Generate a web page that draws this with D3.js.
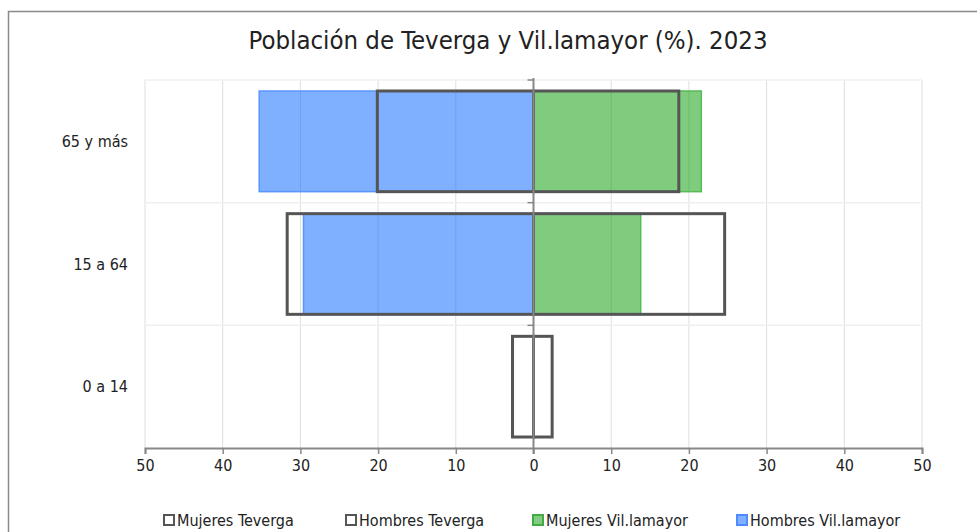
<!DOCTYPE html>
<html>
<head>
  <title>Población de Teverga y Vil.lamayor</title>
  <script src="https://d3js.org/d3.v7.min.js"></script>
  <style>
    body { margin: 0; background: #fff; }
    text { font-family: "Liberation Sans Narrow", "DejaVu Sans Condensed", sans-serif; fill: #222; }
    .title { font-size: 25.5px; }
    .lbl { font-size: 16px; }
    .grid line { stroke: #dedede; stroke-width: 1; }
    .hgrid line { stroke: #f0f0f0; stroke-width: 1.5; }
  </style>
</head>
<body>
  <svg width="977" height="532"></svg>

  <script>
    // datos (%)
    const categories = ['65 y más', '15 a 64', '0 a 14'];
    const hombresTeverga = [20.1, 31.7, 2.7];
    const mujeresTeverga = [18.7, 24.6, 2.4];
    const hombresVillamayor = [35.3, 29.6, 0];
    const mujeresVillamayor = [21.6, 13.8, 0];
    const xTicks = [-50, -40, -30, -20, -10, 0, 10, 20, 30, 40, 50];
    const legendItems = ['Mujeres Teverga', 'Hombres Teverga', 'Mujeres Vil.lamayor', 'Hombres Vil.lamayor'];

    const svg = d3.select('svg');

    // marco
    svg.append('rect')
      .attr('x', 8.5).attr('y', 11.5)
      .attr('width', 1000).attr('height', 600)
      .attr('fill', 'none')
      .attr('stroke', '#8a8a8a')
      .attr('stroke-width', 1.5);

    svg.append('text')
      .attr('class', 'title')
      .attr('x', 508).attr('y', 49)
      .attr('text-anchor', 'middle')
      .text('Población de Teverga y Vil.lamayor (%). 2023');

    const x = d3.scaleLinear().domain([-50, 50]).range([145, 922]);
    const y = d3.scaleBand().domain(categories).range([80, 448]);
    const pad = 11;

    // rejilla
    svg.append('g').attr('class', 'grid')
      .selectAll('line').data(xTicks).enter().append('line')
      .attr('x1', d => x(d)).attr('x2', d => x(d))
      .attr('y1', 80).attr('y2', 448);

    svg.append('g').attr('class', 'hgrid')
      .selectAll('line').data(categories).enter().append('line')
      .attr('x1', 145).attr('x2', 922)
      .attr('y1', d => y(d)).attr('y2', d => y(d));

    function bars(vals, sign, fill, stroke, opacity, sw) {
      svg.append('g')
        .selectAll('rect').data(vals).enter().append('rect')
        .attr('x', d => sign < 0 ? x(-d) : x(0))
        .attr('width', d => Math.abs(x(d) - x(0)))
        .attr('y', (d, i) => y(categories[i]) + pad)
        .attr('height', y.bandwidth() - 2 * pad)
        .attr('fill', fill)
        .attr('fill-opacity', opacity)
        .attr('stroke', d => d > 0 ? stroke : 'none')
        .attr('stroke-width', sw);
    }

    bars(hombresVillamayor, -1, '#0061ff', '#5a95ff', 0.5, 1.5);
    bars(mujeresVillamayor, 1, '#009900', '#55bb55', 0.5, 1.5);
    bars(hombresTeverga, -1, 'none', '#555', 1, 3);
    bars(mujeresTeverga, 1, 'none', '#555', 1, 3);

    // eje x
    const xAxis = svg.append('g')
      .attr('transform', 'translate(0,448)')
      .call(d3.axisBottom(x).tickValues(xTicks).tickSize(6).tickPadding(6).tickFormat(d => Math.abs(d)));
    xAxis.select('.domain').attr('stroke', '#888').attr('stroke-width', 2);
    xAxis.selectAll('.tick line').attr('stroke', '#888').attr('stroke-width', 1.5);
    xAxis.selectAll('.tick text').attr('class', 'lbl').attr('fill', '#222');

    // eje vertical en cero
    const yAxis = svg.append('g')
      .attr('transform', `translate(${x(0)},0)`);
    yAxis.append('line')
      .attr('y1', 78).attr('y2', 454)
      .attr('stroke', '#888').attr('stroke-width', 2);
    yAxis.selectAll('.tk').data(categories).enter().append('line')
      .attr('x1', -6).attr('x2', 0)
      .attr('y1', d => y(d)).attr('y2', d => y(d))
      .attr('stroke', '#888').attr('stroke-width', 1.5);

    // etiquetas de categorías
    svg.append('g').selectAll('text').data(categories).enter().append('text')
      .attr('class', 'lbl')
      .attr('x', 128)
      .attr('y', d => y(d) + y.bandwidth() / 2)
      .attr('dy', '0.35em')
      .attr('text-anchor', 'end')
      .text(d => d);

    // leyenda
    const legendX = [164, 346, 533, 737];
    const legendStyle = [
      { fill: '#fff', stroke: '#555' },
      { fill: '#fff', stroke: '#555' },
      { fill: '#80cc80', stroke: '#44aa44' },
      { fill: '#80b0ff', stroke: '#4d8cff' }
    ];
    const legend = svg.append('g').selectAll('g').data(legendItems).enter().append('g')
      .attr('transform', (d, i) => `translate(${legendX[i]},520)`);
    legend.append('rect')
      .attr('x', 0).attr('y', -5).attr('width', 10).attr('height', 10)
      .attr('fill', (d, i) => legendStyle[i].fill)
      .attr('stroke', (d, i) => legendStyle[i].stroke)
      .attr('stroke-width', 2);
    legend.append('text')
      .attr('class', 'lbl')
      .attr('x', 13).attr('dy', '0.35em')
      .text(d => d);
  </script>
</body>
</html>
